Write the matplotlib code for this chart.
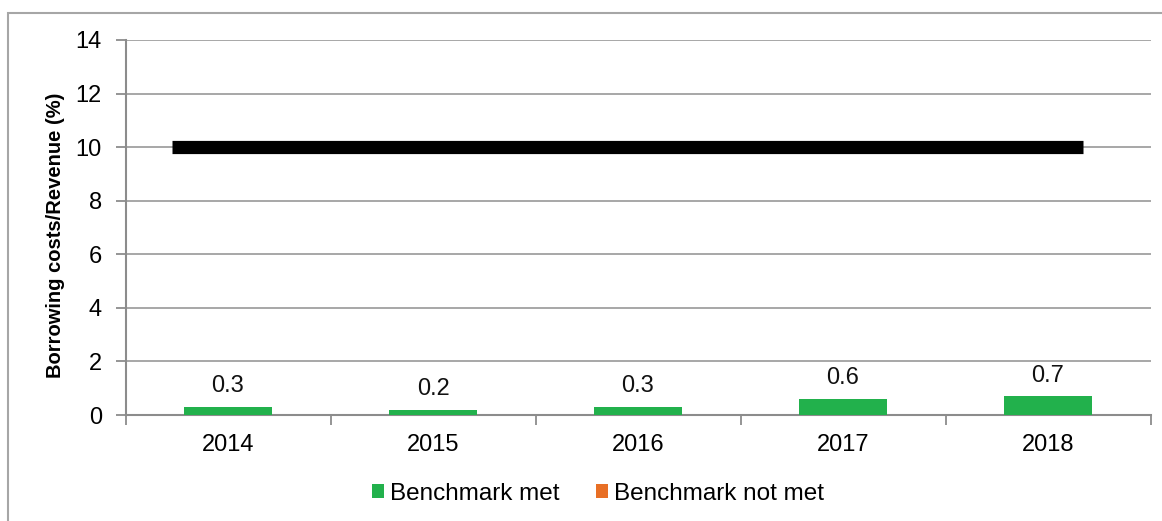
import matplotlib
matplotlib.use('Agg')
import matplotlib.pyplot as plt
import numpy as np
from matplotlib.patches import Rectangle

years = ['2014', '2015', '2016', '2017', '2018']
met = [0.3, 0.2, 0.3, 0.6, 0.7]
not_met = [0, 0, 0, 0, 0]
benchmark = 10
labels = ['0.3', '0.2', '0.3', '0.6', '0.7']

green = '#22B14C'
orange = '#E86F25'
grid_gray = '#A0A0A0'

plt.rcParams['font.family'] = ['Liberation Sans', 'DejaVu Sans']

W, H = 1162, 521
fig = plt.figure(figsize=(W / 100, H / 100), dpi=100)
# plot area in pixels: left 125.5, right 1150.5, top 40, bottom 415
ax = fig.add_axes([125.5 / W, 1 - 415 / H, 1025 / W, 375 / H])

# outer chart border
fig.patches.append(Rectangle((8 / W, -0.1), 1.2, 1 - 13 / H + 0.1,
                             transform=fig.transFigure, fill=False,
                             edgecolor='#A6A6A6', lw=1.5))

x = np.arange(len(years))
ax.bar(x, met, width=0.43, color=green, label='Benchmark met', zorder=3)
ax.bar(x, not_met, width=0.43, bottom=met, color=orange, label='Benchmark not met', zorder=3)

for xi, v, t in zip(x, met, labels):
    ax.annotate(t, (xi, v), xytext=(0, 7), textcoords='offset points',
                ha='center', va='bottom', fontsize=17, color='#111111')

# benchmark line
ax.plot([-0.273, 4.17], [benchmark, benchmark], color='black', lw=9.5,
        solid_capstyle='butt', zorder=4)

ax.set_xlim(-0.5, 4.5)
ax.set_ylim(0, 14)
ax.set_yticks(np.arange(0, 15, 2))
ax.set_xticks(x)
ax.set_xticklabels(years)
ax.set_xticks(np.arange(-0.5, 5, 1), minor=True)
ax.tick_params(axis='x', which='major', length=0, pad=14, labelsize=17)
ax.tick_params(axis='x', which='minor', length=7, width=1.3, color='#8C8C8C', direction='out')
ax.tick_params(axis='y', length=7, width=1.3, color='#8C8C8C', pad=10, labelsize=17)
ax.grid(axis='y', color=grid_gray, lw=1.3, zorder=0)
for s in ['top', 'right']:
    ax.spines[s].set_visible(False)
for s in ['left', 'bottom']:
    ax.spines[s].set_color('#8C8C8C')
    ax.spines[s].set_linewidth(1.5)

ax.set_ylabel('Borrowing costs/Revenue (%)', fontsize=14.5, fontweight='bold')
ax.yaxis.set_label_coords(-0.059, 0.48)

ax.legend(loc='center', bbox_to_anchor=(0.461, -0.21), ncol=2, frameon=False,
          fontsize=17.5, handlelength=0.5, handleheight=0.5, handletextpad=0.25,
          columnspacing=1.5)

fig.savefig('out.png', dpi=100)
